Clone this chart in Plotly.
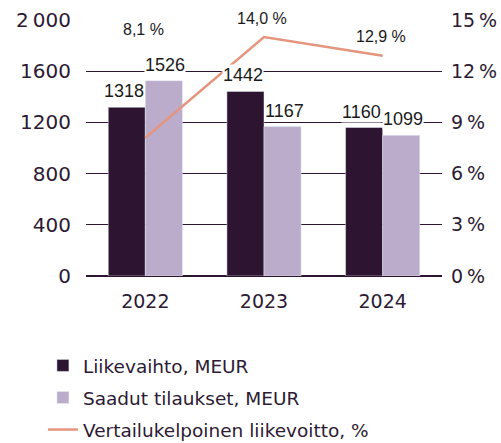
import plotly.graph_objects as go

years = ["2022", "2023", "2024"]
liikevaihto = [1318, 1442, 1160]
tilaukset = [1526, 1167, 1099]
liikevoitto = [8.1, 14.0, 12.9]
pct_labels = ["8,1 %", "14,0 %", "12,9 %"]
left_ticks = [0, 400, 800, 1200, 1600, 2000]
left_ticktext = ["0", "400", "800", "1200", "1600", "2\u2009000"]
right_ticks = [0, 3, 6, 9, 12, 15]
right_ticktext = ["0\u2009%", "3\u2009%", "6\u2009%", "9\u2009%", "12\u2009%", "15\u2009%"]

DARK = "#2d1430"
LIGHT = "#bbaccb"
LINE = "#e5957e"
TXT = "#2d1a33"
FONT = "DejaVu Sans, sans-serif"
LABEL_FONT = "Liberation Sans, Arial, sans-serif"

fig = go.Figure()
fig.add_trace(go.Bar(x=years, y=liikevaihto, name="Liikevaihto, MEUR",
                     marker_color=DARK, yaxis="y", legendgroup="a"))
fig.add_trace(go.Bar(x=years, y=tilaukset, name="Saadut tilaukset, MEUR",
                     marker_color=LIGHT, yaxis="y", legendgroup="b"))
fig.add_trace(go.Scatter(x=years, y=liikevoitto, name="Vertailukelpoinen liikevoitto, %",
                         mode="lines", line=dict(color=LINE, width=2.5), yaxis="y2",
                         legendgroup="c"))

annotations = []
for i in range(len(years)):
    annotations.append(dict(x=i, y=liikevaihto[i], xref="x", yref="y", text=str(liikevaihto[i]),
                            showarrow=False, yanchor="bottom", xshift=-21, yshift=5,
                            bgcolor="white", borderpad=0,
                            font=dict(size=18, color="#1a1a1a", family=LABEL_FONT)))
    annotations.append(dict(x=i, y=tilaukset[i], xref="x", yref="y", text=str(tilaukset[i]),
                            showarrow=False, yanchor="bottom", xshift=20, yshift=5,
                            bgcolor="white", borderpad=0,
                            font=dict(size=18, color="#1a1a1a", family=LABEL_FONT)))
pct_y = [14.45, liikevoitto[1], liikevoitto[2]]
pct_shift = [0, 19, 19]
for i in range(len(years)):
    annotations.append(dict(x=i, y=pct_y[i], xref="x", yref="y2", text=pct_labels[i],
                            showarrow=False, yanchor="middle", yshift=pct_shift[i], xshift=-2,
                            bgcolor="white", borderpad=4,
                            font=dict(size=16, color="#1a1a1a", family=LABEL_FONT)))

fig.update_layout(
    width=501, height=443,
    margin=dict(l=86, r=59, t=20, b=167, autoexpand=False),
    plot_bgcolor="white", paper_bgcolor="white",
    barmode="group", bargap=0.375, bargroupgap=0,
    font=dict(family=FONT, color=TXT),
    xaxis=dict(type="category", range=[-0.5, 2.5], showgrid=False, showline=False, ticks="",
               tickfont=dict(size=19, color=TXT), ticklabelstandoff=12),
    yaxis=dict(range=[0, 2000], tickvals=left_ticks, ticktext=left_ticktext,
               showgrid=True, gridcolor=DARK, gridwidth=1, zeroline=True,
               zerolinecolor=DARK, zerolinewidth=1.5,
               tickfont=dict(size=20, color=TXT), ticklabelstandoff=14, showline=False),
    yaxis2=dict(range=[0, 15], tickvals=right_ticks, ticktext=right_ticktext,
                overlaying="y", side="right", showgrid=False, zeroline=False,
                tickfont=dict(size=19, color=TXT), ticklabelstandoff=8, showline=False),
    legend=dict(x=-0.121, y=-0.277, xanchor="left", yanchor="top", orientation="v",
                font=dict(size=18.5, color=TXT, family=FONT), tracegroupgap=5,
                itemwidth=30, bgcolor="rgba(0,0,0,0)"),
    annotations=annotations,
    showlegend=True,
)
fig.write_html("out.html", config={"displayModeBar": False},
               post_script="document.body.style.margin='0';document.body.style.padding='0';")
